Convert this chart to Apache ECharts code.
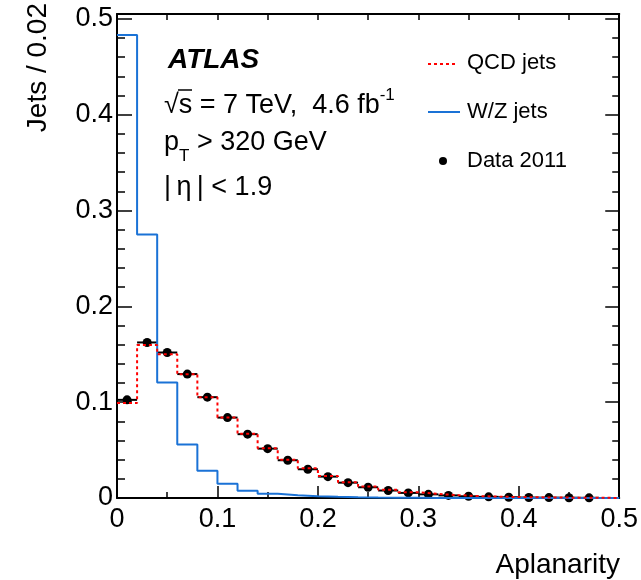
<!DOCTYPE html>
<html>
<head>
<meta charset="utf-8">
<script src="https://cdn.jsdelivr.net/npm/echarts@6/dist/echarts.min.js"></script>
<style>
html, body { margin: 0; padding: 0; background: #fff; }
#chart { width: 641px; height: 580px; }
</style>
</head>
<body>
<div id="chart"></div>
<script>
// bins of 0.02 in aplanarity (lower edges)
var binWidth = 0.02;
var binEdges = [0, 0.02, 0.04, 0.06, 0.08, 0.10, 0.12, 0.14, 0.16, 0.18,
                0.20, 0.22, 0.24, 0.26, 0.28, 0.30, 0.32, 0.34, 0.36, 0.38,
                0.40, 0.42, 0.44, 0.46, 0.48];

// QCD jets, red dashed
var qcdJets = [0.099, 0.1596, 0.150, 0.129, 0.105, 0.084, 0.067, 0.052, 0.040, 0.031,
               0.023, 0.0165, 0.012, 0.0085, 0.006, 0.0042, 0.003, 0.002, 0.0014, 0.001,
               0.0007, 0.0005, 0.0003, 0.0002, 0.0001];

// W/Z jets, blue
var wzJets = [0.483, 0.275, 0.1205, 0.0557, 0.0285, 0.0149, 0.0076, 0.0045, 0.0028, 0.0018,
              0.0012, 0.0008, 0.0005, 0.0003, 0.0002, 0.0001, 0.0001, 0, 0, 0,
              0, 0, 0, 0, 0];

// Data 2011 (bin centres)
var dataX = [0.01, 0.03, 0.05, 0.07, 0.09, 0.11, 0.13, 0.15, 0.17, 0.19,
             0.21, 0.23, 0.25, 0.27, 0.29, 0.31, 0.33, 0.35, 0.37, 0.39,
             0.41, 0.43, 0.45, 0.47];
var data2011 = [0.1024, 0.1623, 0.1518, 0.1293, 0.1052, 0.0839, 0.0666, 0.0515, 0.0394, 0.030,
                0.0223, 0.016, 0.0112, 0.0078, 0.0053, 0.0038, 0.0027, 0.0018, 0.0012, 0.0008,
                0.0005, 0.0004, 0.0003, 0.0002];

var xTicks = [0, 0.1, 0.2, 0.3, 0.4, 0.5];
var yTicks = [0, 0.1, 0.2, 0.3, 0.4, 0.5];

var FONT = "'Liberation Sans', Arial, Helvetica, sans-serif";

//histogram as step line
function histPoints(vals) {
    var pts = [];
    for (var i = 0; i < vals.length; i++) {
        pts.push([binEdges[i], vals[i]]);
    }
    pts.push([binEdges[binEdges.length - 1] + binWidth, vals[vals.length - 1]]);
    return pts;
}

var points = [];
for (var i = 0; i < dataX.length; i++) {
    points.push([dataX[i], data2011[i]]);
}

function tickLabel(v) {
    for (var k = 0; k < xTicks.length; k++) {
        if (Math.abs(v - xTicks[k]) < 1e-6) return String(xTicks[k]);
    }
    return '';
}
function yTickLabel(v) {
    for (var k = 0; k < yTicks.length; k++) {
        if (Math.abs(v - yTicks[k]) < 1e-6) return String(yTicks[k]);
    }
    return '';
}

var chart = echarts.init(document.getElementById('chart'));

var option = {
    animation: false,
    backgroundColor: '#fff',
    grid: { left: 117, top: 14, right: 21, bottom: 82 },
    xAxis: [{
        type: 'value', min: 0, max: 0.5, interval: 0.1, position: 'bottom',
        axisLine: { show: true, onZero: false, lineStyle: { color: '#000', width: 2 } },
        axisTick: { show: true, inside: true, length: 12, lineStyle: { color: '#000', width: 1.5 } },
        minorTick: { show: true, splitNumber: 2, length: 6, lineStyle: { color: '#000', width: 1.5 } },
        splitLine: { show: false },
        axisLabel: { color: '#000', fontSize: 27, fontFamily: FONT, margin: 8, formatter: tickLabel }
    }, {
        type: 'value', min: 0, max: 0.5, interval: 0.1, position: 'top',
        axisLine: { show: true, onZero: false, lineStyle: { color: '#000', width: 2 } },
        axisTick: { show: true, inside: true, length: 6, lineStyle: { color: '#000', width: 1.5 } },
        minorTick: { show: true, splitNumber: 2, length: 6, lineStyle: { color: '#000', width: 1.5 } },
        splitLine: { show: false },
        axisLabel: { show: false }
    }],
    yAxis: [{
        type: 'value', min: 0, max: 0.505, interval: 0.1, position: 'left',
        axisLine: { show: true, onZero: false, lineStyle: { color: '#000', width: 2 } },
        axisTick: { show: true, inside: true, length: 15, lineStyle: { color: '#000', width: 1.5 } },
        minorTick: { show: true, splitNumber: 5, length: 8, lineStyle: { color: '#000', width: 1.5 } },
        splitLine: { show: false },
        axisLabel: { color: '#000', fontSize: 27, fontFamily: FONT, margin: 4, formatter: yTickLabel }
    }, {
        type: 'value', min: 0, max: 0.505, interval: 0.1, position: 'right',
        axisLine: { show: true, onZero: false, lineStyle: { color: '#000', width: 2 } },
        axisTick: { show: true, inside: true, length: 14, lineStyle: { color: '#000', width: 1.5 } },
        minorTick: { show: true, splitNumber: 5, length: 7, lineStyle: { color: '#000', width: 1.5 } },
        splitLine: { show: false },
        axisLabel: { show: false }
    }],
    series: [{
        name: 'W/Z jets', type: 'line', step: 'end', symbol: 'none',
        data: histPoints(wzJets),
        lineStyle: { color: '#1a72d6', width: 2 }
    }, {
        name: 'QCD jets', type: 'line', step: 'end', symbol: 'none',
        data: histPoints(qcdJets),
        lineStyle: { color: '#ff0000', width: 2, type: [3, 3] }
    }, {
        name: 'errors', type: 'custom',
        data: points,
        renderItem: function (params, api) {
            var x = api.value(0), y = api.value(1);
            var p1 = api.coord([x - binWidth / 2, y]);
            var p2 = api.coord([x + binWidth / 2, y]);
            return {
                type: 'line',
                shape: { x1: p1[0], y1: p1[1], x2: p2[0], y2: p2[1] },
                style: { stroke: '#000', lineWidth: 2 }
            };
        }
    }, {
        name: 'Data 2011', type: 'scatter', symbol: 'circle', symbolSize: 9,
        data: points,
        itemStyle: { color: '#000', opacity: 1 }
    }],
    graphic: [
        // axis titles
        { type: 'text', x: 620, y: 565,
          style: { text: 'Aplanarity', font: '28px ' + FONT, fill: '#000', align: 'right', verticalAlign: 'middle' } },
        { type: 'text', x: 38, y: 3, rotation: Math.PI / 2,
          style: { text: 'Jets / 0.02', font: '28px ' + FONT, fill: '#000', align: 'right', verticalAlign: 'middle' } },
        // labels
        { type: 'text', x: 168, y: 60,
          style: { text: 'ATLAS', font: 'italic bold 28px ' + FONT, fill: '#000', verticalAlign: 'middle' } },
        { type: 'text', x: 164, y: 103,
          style: {
              text: '{a|√s = 7 TeV,  4.6 fb}{b|-1}',
              verticalAlign: 'middle', fill: '#000',
              rich: {
                  a: { fontSize: 27, fontFamily: FONT, color: '#000', lineHeight: 32, verticalAlign: 'bottom' },
                  b: { fontSize: 17, fontFamily: FONT, color: '#000', lineHeight: 32, verticalAlign: 'top' }
              }
          } },
        { type: 'line', shape: { x1: 178, y1: 90, x2: 192, y2: 90 },
          style: { stroke: '#000', lineWidth: 1.5 } },
        { type: 'text', x: 164, y: 147,
          style: {
              text: '{a|p}{b|T}{a| > 320 GeV}',
              verticalAlign: 'middle', fill: '#000',
              rich: {
                  a: { fontSize: 27, fontFamily: FONT, color: '#000', lineHeight: 36, verticalAlign: 'top' },
                  b: { fontSize: 17, fontFamily: FONT, color: '#000', lineHeight: 36, verticalAlign: 'bottom' }
              }
          } },
        { type: 'text', x: 164, y: 188,
          style: { text: '|\u2009η\u2009| < 1.9', font: '27px ' + FONT, fill: '#000', verticalAlign: 'middle' } },
        // legend
        { type: 'line', shape: { x1: 428, y1: 64, x2: 458, y2: 64 },
          style: { stroke: '#ff0000', lineWidth: 2, lineDash: [3, 3] } },
        { type: 'text', x: 467, y: 63,
          style: { text: 'QCD jets', font: '22px ' + FONT, fill: '#000', verticalAlign: 'middle' } },
        { type: 'line', shape: { x1: 428, y1: 112, x2: 460, y2: 112 },
          style: { stroke: '#1a72d6', lineWidth: 2 } },
        { type: 'text', x: 467, y: 112,
          style: { text: 'W/Z jets', font: '22px ' + FONT, fill: '#000', verticalAlign: 'middle' } },
        { type: 'circle', shape: { cx: 443, cy: 161, r: 4 }, style: { fill: '#000' } },
        { type: 'text', x: 467, y: 161,
          style: { text: 'Data 2011', font: '22px ' + FONT, fill: '#000', verticalAlign: 'middle' } }
    ]
};

chart.setOption(option);
</script>
</body>
</html>
